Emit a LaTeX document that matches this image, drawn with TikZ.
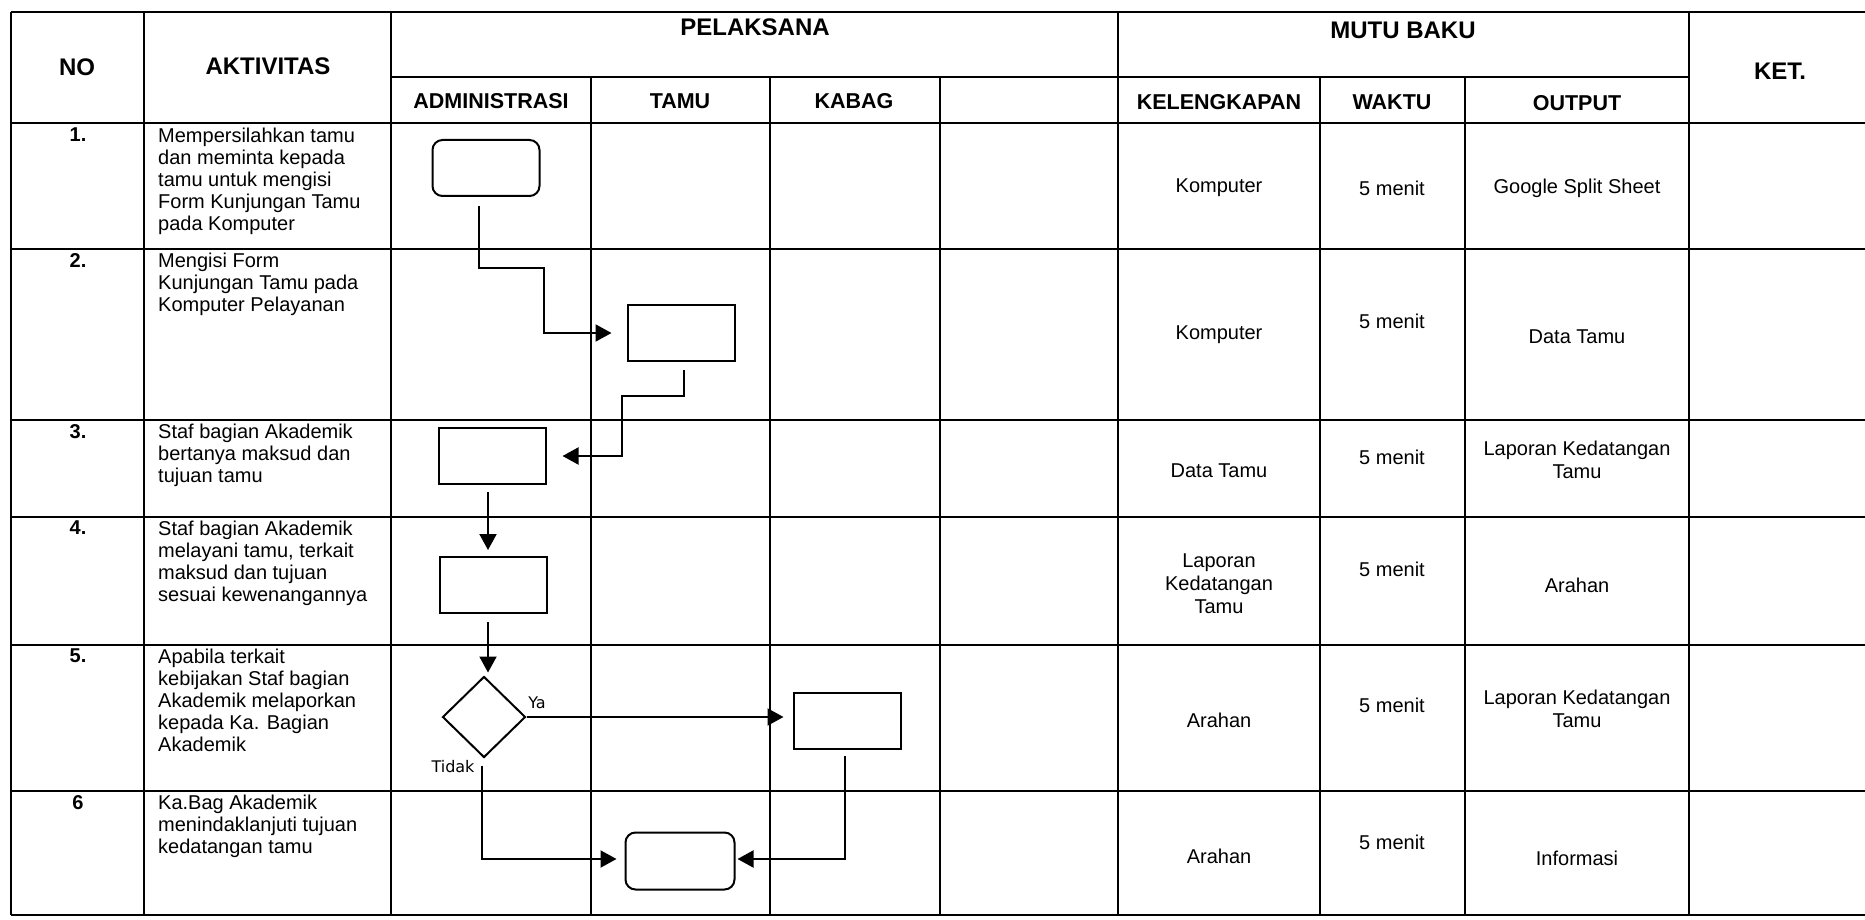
\documentclass[tikz,border=0pt]{standalone}
\usepackage{fontspec}
\setmainfont{Liberation Sans}
\newfontfamily\lblfont{DejaVu Sans}
\usetikzlibrary{shapes.geometric,arrows.meta}
\begin{document}
\begin{tikzpicture}[x=1pt,y=-1pt,
  grid/.style={line width=1.8pt},
  hdr/.style={font=\bfseries\fontsize{24}{26}\selectfont, inner sep=0},
  sub/.style={font=\bfseries\fontsize{21.5}{24}\selectfont, inner sep=0},
  val/.style={font=\fontsize{20}{23}\selectfont, align=center, inner sep=0},
  act/.style={font=\fontsize{20}{22}\selectfont, align=left, anchor=north west, inner sep=0},
  num/.style={font=\bfseries\fontsize{20}{22}\selectfont, anchor=north, inner sep=0},
  proc/.style={draw, line width=2pt, minimum width=107pt, minimum height=56pt, inner sep=0},
  term/.style={proc, rounded corners=10pt},
  dec/.style={draw, diamond, line width=2pt, minimum width=83pt, minimum height=81pt, inner sep=0},
  flow/.style={line width=2pt, -{Triangle[length=16pt,width=17pt]}},
  lbl/.style={font=\lblfont\fontsize{16}{18}\selectfont, inner sep=0},
]
\useasboundingbox (0,0) rectangle (1865,920);
% ---- table grid ----
\draw[grid] (11,12) -- (1865,12);
\draw[grid] (391,77) -- (1689,77);
\foreach \y in {123,249,420,517,645,791,915} \draw[grid] (11,\y) -- (1865,\y);
\foreach \x in {11,144,391,1118,1689} \draw[grid] (\x,12) -- (\x,915);
\foreach \x in {591,770,940,1320,1465} \draw[grid] (\x,77) -- (\x,915);
% ---- headers ----
\node[hdr] (hno) at (77,67) {NO};
\node[hdr] (hakt) at (268,66) {AKTIVITAS};
\node[hdr] (hpel) at (755,27) {PELAKSANA};
\node[hdr] (hmut) at (1403,30) {MUTU BAKU};
\node[hdr] (hket) at (1780,71) {KET.};
\node[sub] (hadm) at (491,101) {ADMINISTRASI};
\node[sub] (htamu) at (680,101) {TAMU};
\node[sub] (hkab) at (854,101) {KABAG};
\node[sub] (hkel) at (1219,102) {KELENGKAPAN};
\node[sub] (hwak) at (1392,102) {WAKTU};
\node[sub] (hout) at (1577,103) {OUTPUT};
% ---- numbers ----
\node[num] (n1) at (78,128) {1.};
\node[num] (n2) at (78,253) {2.};
\node[num] (n3) at (78,424) {3.};
\node[num] (n4) at (78,521) {4.};
\node[num] (n5) at (78,649) {5.};
\node[num] (n6) at (78,795) {6};
% ---- activities ----
\node[act] (a1) at (158,128) {Mempersilahkan tamu\\dan meminta kepada\\tamu untuk mengisi\\Form Kunjungan Tamu\\pada Komputer};
\node[act] (a2) at (158,253) {Mengisi Form\\Kunjungan Tamu pada\\Komputer Pelayanan};
\node[act] (a3) at (158,424) {Staf bagian Akademik\\bertanya maksud dan\\tujuan  tamu};
\node[act] (a4) at (158,521) {Staf bagian Akademik\\melayani tamu, terkait\\maksud dan tujuan\\sesuai kewenangannya};
\node[act] (a5) at (158,649) {Apabila terkait\\kebijakan Staf bagian\\Akademik melaporkan\\kepada Ka. Bagian\\Akademik};
\node[act] (a6) at (158,795) {Ka.Bag Akademik\\menindaklanjuti tujuan\\kedatangan tamu};
% ---- mutu baku ----
\node[val] (k1) at (1219,188) {Komputer};
\node[val] (w1) at (1392,188) {5 menit};
\node[val] (o1) at (1577,188) {Google Split Sheet};
\node[val] (k2) at (1219,335) {Komputer};
\node[val] (w2) at (1392,321) {5 menit};
\node[val] (o2) at (1577,337) {Data Tamu};
\node[val] (k3) at (1219,471) {Data Tamu};
\node[val] (w3) at (1392,457) {5 menit};
\node[val] (o3) at (1577,460) {Laporan Kedatangan\\Tamu};
\node[val] (k4) at (1219,584) {Laporan\\Kedatangan\\Tamu};
\node[val] (w4) at (1392,569) {5 menit};
\node[val] (o4) at (1577,585) {Arahan};
\node[val] (k5) at (1219,720) {Arahan};
\node[val] (w5) at (1392,705) {5 menit};
\node[val] (o5) at (1577,709) {Laporan Kedatangan\\Tamu};
\node[val] (k6) at (1219,856) {Arahan};
\node[val] (w6) at (1392,842) {5 menit};
\node[val] (o6) at (1577,858) {Informasi};
% ---- flowchart ----
\node[term] (t1) at (486,168) {};
\node[proc] (p2) at (681,333) {};
\node[proc] (p3) at (492,456) {};
\node[proc] (p4) at (493,585) {};
\node[dec] (d5) at (484,717) {};
\node[proc] (p5) at (847,721) {};
\node[term, minimum width=109pt, minimum height=57pt] (t6) at (680,861) {};
\coordinate (c1a) at (479,268);
\coordinate (c1b) at (544,268);
\coordinate (c2a) at (684,396);
\coordinate (c2b) at (622,396);
\coordinate (c6a) at (482,859);
\coordinate (c6b) at (845,859);
\draw[flow, shorten <=9pt, shorten >=15pt] (t1.south -| c1a) -- (c1a) -- (c1b) |- (p2.west);
\draw[flow, shorten <=8pt, shorten >=16pt] (p2.south -| c2a) -- (c2a) -- (c2b) |- (p3.east);
\draw[flow, shorten <=7pt, shorten >=6pt] (p3.south -| 488,0) -- (488,0 |- p4.north);
\draw[flow, shorten <=8pt, shorten >=3pt] (p4.south -| 488,0) -- (488,0 |- d5.north);
\draw[flow, shorten >=9pt] (d5.east) -- (d5.east -| p5.west);
\draw[flow, shorten <=7pt, shorten >=8pt] (d5.south -| c6a) -- (c6a) -- (c6a -| t6.west);
\draw[flow, shorten <=6pt, shorten >=2pt] (p5.south -| c6b) -- (c6b) -- (c6b -| t6.east);
\node[lbl] (ya) at (537,703) {Ya};
\node[lbl] (tidak) at (453,767) {Tidak};
\end{tikzpicture}
\end{document}
